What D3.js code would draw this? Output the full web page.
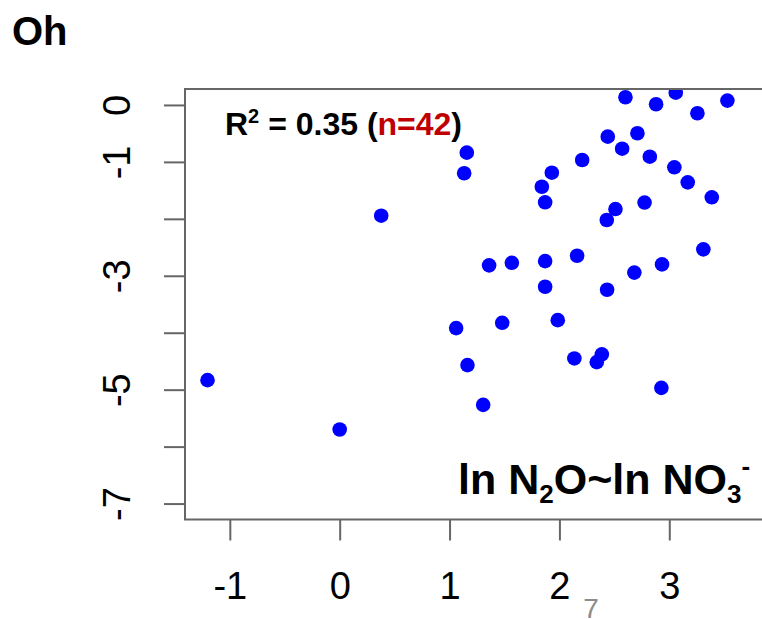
<!DOCTYPE html>
<html>
<head>
<meta charset="utf-8">
<style>
  body { margin: 0; background: #fff; }
  svg { display: block; font-family: "Liberation Sans", Arial, sans-serif; }
</style>
</head>
<body>
<svg width="762" height="619"></svg>
<script src="https://cdn.jsdelivr.net/npm/d3@7"></script>
<script>
// ln NO3- (x) vs ln N2O (y), one dot per sample
var lnNO3 = [-1.203, 0.00, 0.378, 1.157, 1.133, 2.601, 2.880, 3.059, 3.256, 3.529,
             2.440, 2.710, 2.571, 2.207, 2.823, 1.931, 3.046, 1.840, 3.168, 1.870,
             3.387, 2.510, 2.431, 2.775, 3.310, 1.360, 1.567, 1.870, 2.161, 2.934,
             2.682, 1.870, 2.434, 1.060, 1.479, 1.985, 1.163, 2.136, 2.386, 2.340,
             2.928, 1.306];
var lnN2O = [-4.833, -5.700, -1.945, -0.838, -1.200, 0.135, 0.012, 0.216, -0.146, 0.076,
             -0.557, -0.497, -0.768, -0.967, -0.909, -1.190, -1.095, -1.436, -1.359, -1.710,
             -1.622, -1.828, -2.021, -1.714, -2.536, -2.817, -2.772, -2.742, -2.648, -2.800,
             -2.944, -3.193, -3.246, -3.919, -3.826, -3.779, -4.569, -4.452, -4.381, -4.517,
             -4.968, -5.267];

var xlim = [-1.2, 4], ylim = [-7, 0];
var xTicks = [-1, 0, 1, 2, 3];
var xTickLabels = ["-1", "0", "1", "2", "3"];
var yTicks = [0, -1, -2, -3, -4, -5, -6, -7];
var yTickLabels = ["0", "-1", "", "-3", "", "-5", "", "-7"];

var svg = d3.select("svg");

// plot box like R (4% padding on each axis)
var boxL = 185, boxR = 802, boxT = 89, boxB = 519.5;
var padX = (xlim[1] - xlim[0]) * 0.04, padY = (ylim[1] - ylim[0]) * 0.04;

var x = d3.scaleLinear().domain([xlim[0] - padX, xlim[1] + padX]).range([boxL, boxR]);
var y = d3.scaleLinear().domain([ylim[0] - padY, ylim[1] + padY]).range([boxB, boxT]);

svg.append("text")
    .attr("x", 12).attr("y", 45)
    .attr("font-size", 40).attr("font-weight", "bold")
    .text("Oh");

svg.append("clipPath").attr("id", "box")
  .append("rect")
    .attr("x", boxL).attr("y", boxT)
    .attr("width", boxR - boxL).attr("height", boxB - boxT);

svg.append("g")
    .attr("clip-path", "url(#box)")
  .selectAll("circle")
  .data(d3.range(lnNO3.length))
  .enter().append("circle")
    .attr("cx", function(i) { return x(lnNO3[i]); })
    .attr("cy", function(i) { return y(lnN2O[i]); })
    .attr("r", 7.3)
    .attr("fill", "#0000ff");

svg.append("rect")
    .attr("x", boxL).attr("y", boxT)
    .attr("width", boxR - boxL).attr("height", boxB - boxT)
    .attr("fill", "none").attr("stroke", "#666").attr("stroke-width", 2);

var xAxis = svg.append("g")
    .attr("transform", "translate(0," + boxB + ")")
    .call(d3.axisBottom(x).tickValues(xTicks).tickSize(21)
      .tickFormat(function(d, i) { return xTickLabels[i]; }));
xAxis.select(".domain").remove();
xAxis.selectAll("line").attr("stroke", "#666").attr("stroke-width", 2);
xAxis.selectAll("text")
    .attr("y", 79).attr("dy", null)
    .attr("font-size", 38).attr("fill", "#000")
    .attr("font-family", null);

var yAxis = svg.append("g")
    .attr("transform", "translate(" + boxL + ",0)")
    .call(d3.axisLeft(y).tickValues(yTicks).tickSize(21)
      .tickFormat(function(d, i) { return yTickLabels[i]; }));
yAxis.select(".domain").remove();
yAxis.selectAll("line").attr("stroke", "#666").attr("stroke-width", 2);
yAxis.selectAll("text")
    .attr("x", null).attr("dy", null)
    .attr("transform", "translate(-55,0) rotate(-90)")
    .attr("text-anchor", "middle")
    .attr("font-size", 38).attr("fill", "#000")
    .attr("font-family", null);

var r2 = svg.append("text")
    .attr("x", 225).attr("y", 135)
    .attr("font-size", 32).attr("font-weight", "bold");
r2.append("tspan").text("R");
r2.append("tspan").attr("font-size", 20).attr("dy", -12).text("2");
r2.append("tspan").attr("dy", 12).text(" = 0.35 (");
r2.append("tspan").attr("fill", "#c00000").text("n=42");
r2.append("tspan").text(")");

var lab = svg.append("text")
    .attr("x", 458).attr("y", 494)
    .attr("font-size", 43).attr("font-weight", "bold");
lab.append("tspan").text("ln N");
lab.append("tspan").attr("font-size", 26).attr("dy", 9).text("2");
lab.append("tspan").attr("dy", -9).text("O~ln NO");
lab.append("tspan").attr("font-size", 26).attr("dy", 9).text("3");
lab.append("tspan").attr("font-size", 26).attr("dy", -28).text("-");

svg.append("text")
    .attr("x", 591).attr("y", 618)
    .attr("text-anchor", "middle")
    .attr("font-size", 28).attr("fill", "#8c8c8c")
    .text("7");
</script>
</body>
</html>
